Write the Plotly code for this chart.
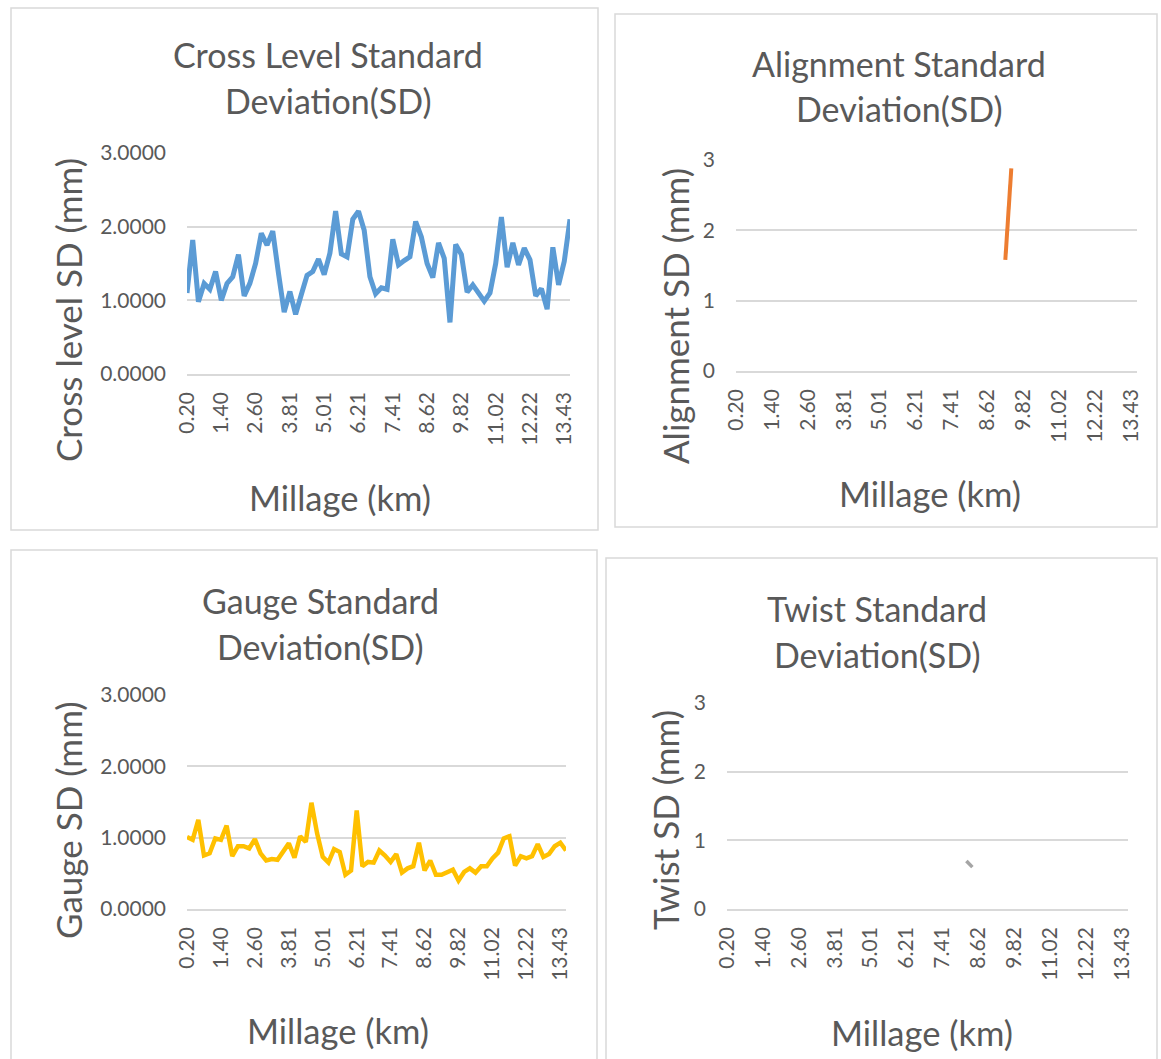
import plotly.graph_objects as go

W, H = 1161, 1059

millage = ["0.20", "0.40", "0.60", "0.80", "1.00", "1.20", "1.40", "1.60", "1.80", "2.00",
           "2.20", "2.40", "2.60", "2.81", "3.01", "3.21", "3.41", "3.61", "3.81", "4.01",
           "4.21", "4.41", "4.61", "4.81", "5.01", "5.21", "5.41", "5.61", "5.81", "6.01",
           "6.21", "6.41", "6.61", "6.81", "7.01", "7.21", "7.41", "7.61", "7.82", "8.02",
           "8.22", "8.42", "8.62", "8.82", "9.02", "9.22", "9.42", "9.62", "9.82", "10.02",
           "10.22", "10.42", "10.62", "10.82", "11.02", "11.22", "11.42", "11.62", "11.82", "12.02",
           "12.22", "12.42", "12.62", "12.83", "13.03", "13.23", "13.43", "13.63"]

tick_labels = ["0.20", "1.40", "2.60", "3.81", "5.01", "6.21", "7.41", "8.62", "9.82",
               "11.02", "12.22", "13.43"]

cross_level_sd = [1.10, 1.82, 0.98, 1.23, 1.15, 1.39, 1.00, 1.23, 1.32, 1.62,
                  1.06, 1.23, 1.50, 1.91, 1.75, 1.94, 1.37, 0.84, 1.12, 0.81,
                  1.08, 1.34, 1.39, 1.56, 1.35, 1.64, 2.21, 1.63, 1.59, 2.10,
                  2.21, 1.95, 1.32, 1.09, 1.17, 1.15, 1.83, 1.48, 1.54, 1.59,
                  2.07, 1.86, 1.50, 1.31, 1.78, 1.57, 0.70, 1.76, 1.62, 1.11,
                  1.21, 1.09, 0.99, 1.10, 1.50, 2.13, 1.45, 1.78, 1.48, 1.71,
                  1.55, 1.06, 1.16, 0.88, 1.72, 1.21, 1.53, 2.10]

gauge_sd = [1.01, 0.97, 1.25, 0.75, 0.78, 0.99, 0.97, 1.17, 0.74, 0.88,
            0.88, 0.85, 0.98, 0.78, 0.68, 0.70, 0.69, 0.82, 0.92, 0.72,
            1.02, 0.94, 1.49, 1.06, 0.73, 0.65, 0.84, 0.80, 0.48, 0.54,
            1.38, 0.60, 0.66, 0.65, 0.82, 0.75, 0.66, 0.77, 0.51, 0.57,
            0.60, 0.93, 0.54, 0.68, 0.48, 0.48, 0.52, 0.55, 0.40, 0.52,
            0.57, 0.51, 0.60, 0.60, 0.71, 0.79, 0.99, 1.02, 0.61, 0.74,
            0.71, 0.74, 0.91, 0.73, 0.77, 0.88, 0.93, 0.82]

alignment_sd = [None] * 45 + [1.58, 2.88] + [None] * 21
twist_sd = [None] * 40 + [0.70, 0.61] + [None] * 26

TEXT = "#595959"
GRID = "#D9D9D9"
BORDER = "#D9D9D9"
FONT = "Lato"

def px_x(p):
    return p / W

def px_y(p):
    return 1 - p / H

panels = [
    dict(y=cross_level_sd, color="#5B9BD5", width=5, fmt=".4f",
         xd=(187, 570), yd=(153, 374),
         title=("Cross Level Standard", "Deviation(SD)"), tx=328, ty=(55, 101),
         ytitle="Cross level SD (mm)", ytx=68, yty=310,
         xtitle="Millage (km)", xtx=340, xty=497,
         box=(11, 8, 598, 530)),
    dict(y=alignment_sd, color="#ED7D31", width=4, fmt="d",
         xd=(736, 1137), yd=(160, 371),
         title=("Alignment Standard", "Deviation(SD)"), tx=899, ty=(63, 108),
         ytitle="Alignment SD (mm)", ytx=675, yty=316,
         xtitle="Millage (km)", xtx=930, xty=494,
         box=(615, 14, 1157, 527)),
    dict(y=gauge_sd, color="#FFC000", width=4.5, fmt=".4f",
         xd=(187, 566), yd=(695, 909),
         title=("Gauge Standard", "Deviation(SD)"), tx=320, ty=(600, 646),
         ytitle="Gauge SD (mm)", ytx=68, yty=820,
         xtitle="Millage (km)", xtx=338, xty=1030,
         box=(11, 550, 597, 1100)),
    dict(y=twist_sd, color="#A5A5A5", width=3.5, fmt="d",
         xd=(727, 1128), yd=(703, 909),
         title=("Twist Standard", "Deviation(SD)"), tx=877, ty=(608, 654),
         ytitle="Twist SD (mm)", ytx=665, yty=820,
         xtitle="Millage (km)", xtx=922, xty=1032,
         box=(606, 558, 1157, 1100)),
]

fig = go.Figure()
annotations = []
shapes = []
layout_axes = {}

for i, p in enumerate(panels, start=1):
    xa = "x" if i == 1 else f"x{i}"
    ya = "y" if i == 1 else f"y{i}"
    fig.add_trace(go.Scatter(
        x=millage, y=p["y"], xaxis=xa, yaxis=ya, mode="lines",
        line=dict(color=p["color"], width=p["width"]),
        connectgaps=False, showlegend=False, hoverinfo="skip"))
    xkey = "xaxis" if i == 1 else f"xaxis{i}"
    ykey = "yaxis" if i == 1 else f"yaxis{i}"
    layout_axes[xkey] = dict(
        type="category", domain=[px_x(p["xd"][0]), px_x(p["xd"][1])],
        anchor=ya, range=[0, len(millage) - 1], automargin=False,
        tickmode="array", tickvals=tick_labels, ticktext=tick_labels,
        tickangle=-90, showgrid=False, zeroline=False,
        showline=True, linecolor=GRID, linewidth=1.5,
        ticks="", ticklabelstandoff=8,
        tickfont=dict(family=FONT, size=21, color=TEXT),
        categoryorder="array", categoryarray=millage, fixedrange=True)
    layout_axes[ykey] = dict(
        domain=[px_y(p["yd"][1]), px_y(p["yd"][0])], anchor=xa, automargin=False,
        range=[0, 3], dtick=1, tick0=0, tickformat=p["fmt"],
        showgrid=True, gridcolor=GRID, gridwidth=1.5, zeroline=False,
        showline=False, ticks="", ticklabelstandoff=20,
        tickfont=dict(family=FONT, size=21, color=TEXT), fixedrange=True)
    for line_text, ty in zip(p["title"], p["ty"]):
        annotations.append(dict(
            text=line_text, x=px_x(p["tx"]), y=px_y(ty), xref="paper", yref="paper",
            xanchor="center", yanchor="middle", showarrow=False,
            font=dict(family=FONT, size=34, color=TEXT)))
    annotations.append(dict(
        text=p["ytitle"], x=px_x(p["ytx"]), y=px_y(p["yty"]), xref="paper", yref="paper",
        xanchor="center", yanchor="middle", showarrow=False, textangle=-90,
        font=dict(family=FONT, size=35, color=TEXT)))
    annotations.append(dict(
        text=p["xtitle"], x=px_x(p["xtx"]), y=px_y(p["xty"]), xref="paper", yref="paper",
        xanchor="center", yanchor="middle", showarrow=False,
        font=dict(family=FONT, size=34.5, color=TEXT)))
    bx0, by0, bx1, by1 = p["box"]
    shapes.append(dict(type="rect", xref="paper", yref="paper",
                       x0=px_x(bx0), x1=px_x(bx1), y0=px_y(by1), y1=px_y(by0),
                       line=dict(color=BORDER, width=1.5), fillcolor="rgba(0,0,0,0)",
                       layer="below"))

fig.update_layout(
    width=W, height=H, margin=dict(l=0, r=0, t=0, b=0, autoexpand=False),
    paper_bgcolor="white", plot_bgcolor="white",
    annotations=annotations, shapes=shapes, showlegend=False,
    **layout_axes)

fig.write_html("out.html", config={"displayModeBar": False})
